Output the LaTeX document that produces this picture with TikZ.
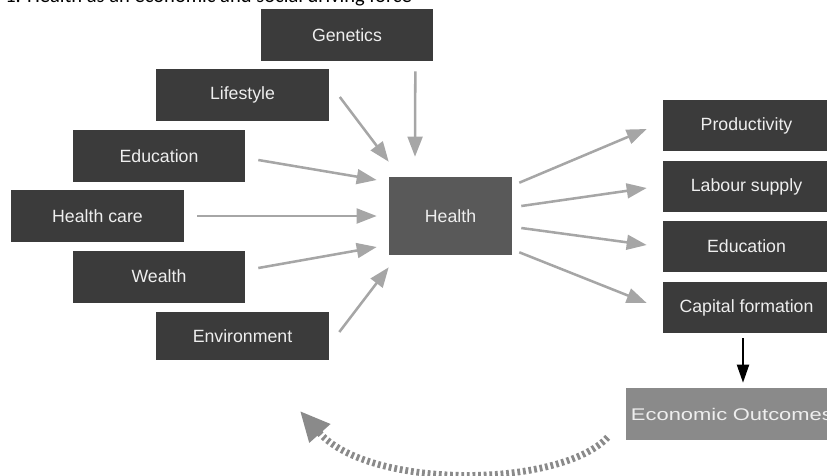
\documentclass[tikz,border=0pt]{standalone}
\usepackage{fontspec}
\newfontfamily\labelfont{Liberation Sans}
\newfontfamily\wideface[FakeStretch=1.3]{Liberation Sans}
\newfontfamily\titlefont{Carlito}
\usetikzlibrary{arrows.meta,calc}
\definecolor{boxdark}{HTML}{3B3B3B}
\definecolor{boxmid}{HTML}{595959}
\definecolor{boxlight}{HTML}{8A8A8A}
\definecolor{arrowgray}{HTML}{A6A6A6}
\definecolor{boxtext}{HTML}{EEEEEE}
\begin{document}
\begin{tikzpicture}[x=0.025cm, y=-0.025cm, line join=miter,
  factor box/.style={rectangle,fill=boxdark,text=boxtext,font=\labelfont\fontsize{12.6}{14}\selectfont,minimum width=4.3cm,minimum height=1.3cm,inner sep=0pt},
  health box/.style={factor box,fill=boxmid,minimum width=3.075cm,minimum height=1.95cm},
  outcome box/.style={factor box,minimum width=4.175cm,minimum height=1.275cm},
  arr/.style={draw=arrowgray,line width=1.8pt,-{Triangle[length=0.5cm,width=0.37cm]}}]%
\useasboundingbox (0,0) rectangle (827,475);
\clip (0,0) rectangle (827,475);
\node[anchor=base west,inner sep=0pt,font=\titlefont\fontsize{14.6}{16}\selectfont] (title) at (5,2.5) {1. Health as an economic and social driving force};
\begin{scope}[every node/.style={factor box}]
\node (gen) at (347,35) {Genetics};
\node (lif) at (242.5,95) {Lifestyle};
\node (edl) at (159,156) {Education};
\node (hc) at (97.5,216) {Health care};
\node (wea) at (159,276.5) {Wealth};
\node[minimum height=1.2cm] (env) at (242.5,336) {Environment};
\end{scope}
\node[health box] (health) at (450.5,216) {Health};
\begin{scope}[every node/.style={outcome box}]
\node (prod) at (746.5,125.5) {Productivity};
\node (lab) at (746.5,186.5) {Labour supply};
\node (edr) at (746.5,246.5) {Education};
\node (cap) at (746.5,307.5) {Capital formation};
\end{scope}
\node[factor box,fill=boxlight,font=\wideface\fontsize{12}{14}\selectfont,minimum width=0pt,inner xsep=0.125cm,text width=5.5cm,align=left] (eco) at (741,414) {Economic Outcomes};
\begin{scope}
% into health
\draw[arr] ($(gen.south east)+(-18,10)$) -- ($(health.north)+(-35.5,-20)$);
\draw[arr] ($(lif.east)+(11,2)$) -- ($(health.north west)+(0,-15)$);
\draw[arr] ($(edl.east)+(13,4)$) -- ($(health.west)+(-12,-36)$);
\draw[arr] ($(hc.east)+(13.5,0)$) -- ($(health.west)+(-12,0)$);
\draw[arr] ($(wea.east)+(13,-8.5)$) -- ($(health.west)+(-12,31)$);
\draw[arr] ($(env.east)+(10.5,-4)$) -- ($(health.south west)+(0,12)$);
% out of health
\draw[arr] ($(health.north east)+(7,6)$) -- ($(prod.west)+(-16,3.5)$);
\draw[arr] ($(health.east)+(9,-10)$) -- ($(lab.west)+(-16,1.5)$);
\draw[arr] ($(health.east)+(9,12)$) -- ($(edr.west)+(-16,-1.5)$);
\draw[arr] ($(health.south east)+(7,-3)$) -- ($(cap.west)+(-16,-4.5)$);
% to outcomes and back
\draw[line width=1.4pt,-{Triangle[length=0.45cm,width=0.3cm]}] ($(cap.south)+(-3.5,5)$) -- ($(eco.north -| cap.south)+(-3.5,-5)$);
\coordinate (back) at (300,411);
\draw[draw=boxlight,line width=4.8pt,dash pattern=on 2pt off 2pt,-{Triangle[length=0.75cm,width=0.66cm]}]
  ($(eco.south west)+(-18,-3)$) .. controls (560,488) and (370,490) .. (back);
\end{scope}
\end{tikzpicture}
\end{document}
